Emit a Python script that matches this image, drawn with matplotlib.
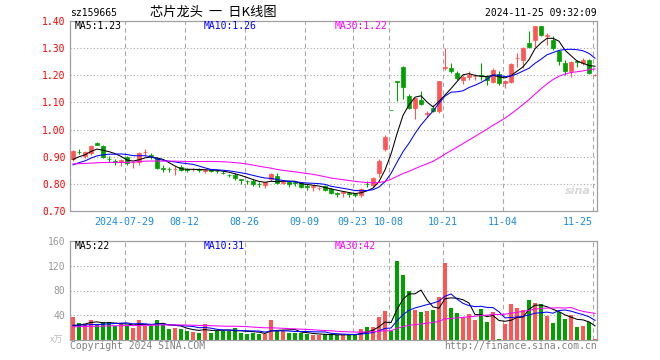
import numpy as np
import pandas as pd
import matplotlib
matplotlib.use("Agg")
import matplotlib.pyplot as plt

# 日K线数据 (2024-07-16 ~ 2024-11-25)
opens = [
    0.891, 0.919, 0.902, 0.914, 0.951, 0.941, 0.893, 0.884, 0.879, 0.899,
    0.879, 0.880, 0.916, 0.906, 0.895, 0.857, 0.856, 0.854, 0.862, 0.853,
    0.853, 0.853, 0.849, 0.850, 0.849, 0.841, 0.834, 0.833, 0.818, 0.812,
    0.812, 0.800, 0.796, 0.817, 0.830, 0.803, 0.809, 0.806, 0.802, 0.791,
    0.789, 0.783, 0.793, 0.780, 0.766, 0.767, 0.766, 0.761, 0.760, 0.801,
    0.796, 0.840, 0.930, 1.072, 1.178, 1.232, 1.123, 1.078, 1.109, 1.058,
    1.080, 1.069, 1.228, 1.226, 1.207, 1.183, 1.193, 1.197, 1.201, 1.198,
    1.177, 1.205, 1.170, 1.177, 1.262, 1.257, 1.319, 1.331, 1.380, 1.346,
    1.331, 1.288, 1.244, 1.214, 1.252, 1.244, 1.257, 1.200]
closes = [
    0.922, 0.917, 0.917, 0.941, 0.944, 0.900, 0.891, 0.882, 0.889, 0.877,
    0.881, 0.914, 0.918, 0.904, 0.860, 0.855, 0.854, 0.856, 0.852, 0.851,
    0.855, 0.851, 0.851, 0.846, 0.847, 0.839, 0.832, 0.821, 0.816, 0.810,
    0.800, 0.798, 0.805, 0.835, 0.802, 0.807, 0.800, 0.804, 0.790, 0.789,
    0.791, 0.785, 0.778, 0.765, 0.764, 0.769, 0.764, 0.759, 0.780, 0.799,
    0.820, 0.885, 0.973, 1.071, 1.175, 1.158, 1.078, 1.115, 1.096, 1.060,
    1.069, 1.180, 1.232, 1.214, 1.189, 1.195, 1.200, 1.199, 1.199, 1.183,
    1.220, 1.170, 1.180, 1.241, 1.264, 1.300, 1.304, 1.380, 1.349, 1.348,
    1.300, 1.251, 1.214, 1.248, 1.250, 1.257, 1.210, 1.202]
highs = [
    0.926, 0.927, 0.920, 0.945, 0.955, 0.945, 0.904, 0.892, 0.892, 0.901,
    0.885, 0.917, 0.928, 0.914, 0.899, 0.870, 0.862, 0.864, 0.870, 0.858,
    0.858, 0.858, 0.854, 0.853, 0.852, 0.846, 0.838, 0.839, 0.819, 0.815,
    0.817, 0.805, 0.808, 0.840, 0.840, 0.810, 0.815, 0.812, 0.805, 0.798,
    0.794, 0.790, 0.797, 0.784, 0.771, 0.775, 0.771, 0.765, 0.784, 0.809,
    0.827, 0.891, 0.979, 1.073, 1.180, 1.235, 1.131, 1.117, 1.142, 1.070,
    1.090, 1.180, 1.300, 1.245, 1.214, 1.200, 1.214, 1.205, 1.245, 1.200,
    1.226, 1.214, 1.183, 1.247, 1.281, 1.304, 1.362, 1.380, 1.380, 1.355,
    1.343, 1.294, 1.257, 1.251, 1.257, 1.263, 1.259, 1.203]
lows = [
    0.886, 0.910, 0.894, 0.908, 0.942, 0.896, 0.880, 0.870, 0.866, 0.870,
    0.860, 0.870, 0.904, 0.890, 0.854, 0.845, 0.845, 0.833, 0.846, 0.842,
    0.849, 0.843, 0.840, 0.842, 0.840, 0.836, 0.826, 0.815, 0.800, 0.800,
    0.793, 0.790, 0.785, 0.810, 0.798, 0.798, 0.788, 0.792, 0.786, 0.776,
    0.772, 0.778, 0.772, 0.763, 0.753, 0.753, 0.751, 0.751, 0.751, 0.788,
    0.790, 0.827, 0.921, 1.071, 1.107, 1.113, 1.074, 1.038, 1.090, 1.047,
    1.065, 1.060, 1.220, 1.207, 1.183, 1.168, 1.183, 1.183, 1.183, 1.164,
    1.170, 1.165, 1.152, 1.170, 1.232, 1.226, 1.300, 1.306, 1.343, 1.312,
    1.294, 1.238, 1.201, 1.195, 1.232, 1.238, 1.204, 1.199]
# 成交量 (万手)
volumes = [
    36.5, 27, 26, 33, 24, 28.5, 28.5, 23, 27, 23,
    20, 32, 23, 23, 32, 25, 18, 20, 18, 14.5,
    13.4, 12, 26, 12, 14.5, 14.5, 14.5, 19, 12, 10,
    12, 10, 9, 32, 14.5, 14.5, 12, 12, 11, 10,
    8, 8, 9, 9, 8, 8, 8, 10, 18, 21.5,
    21.5, 36.5, 47, 14.5, 127, 105, 79, 48, 45, 47,
    48, 69, 125, 51.5, 43.5, 36.5, 42, 32, 50, 29,
    45, 1.5, 26, 58, 51.5, 48, 64, 60, 58, 39,
    27, 45, 34, 40, 21, 22.5, 29, 1.6]

# 区间之前的29个交易日, 只用于计算均线
pre_closes = [
    0.90, 0.89, 0.91, 0.90, 0.88, 0.87, 0.88, 0.89, 0.87, 0.86,
    0.86, 0.87, 0.88, 0.87, 0.86, 0.85, 0.86, 0.87, 0.88, 0.86,
    0.84, 0.85, 0.84, 0.86, 0.86, 0.87, 0.88, 0.88, 0.90]
pre_volumes = [
    18, 22, 20, 24, 19, 17, 21, 23, 18, 20,
    22, 19, 16, 21, 24, 20, 18, 19, 22, 17,
    26, 24, 27, 23, 25, 20, 18, 21, 19]

holidays = ["2024-09-16", "2024-09-17", "2024-10-01", "2024-10-02", "2024-10-03",
            "2024-10-04", "2024-10-07"]
tick_dates = ["2024-07-29", "2024-08-12", "2024-08-26", "2024-09-09", "2024-09-23",
              "2024-10-08", "2024-10-21", "2024-11-04", "2024-11-25"]
tick_labels = ["2024-07-29", "08-12", "08-26", "09-09", "09-23", "10-08", "10-21", "11-04", "11-25"]

price_labels = ["MA5:1.23", "MA10:1.26", "MA30:1.22"]
vol_labels = ["MA5:22", "MA10:31", "MA30:42"]

RED = "#ff5555"
GREEN = "#00a000"
GRID = "#a8a8a8"
FRAME = "#a0a0a0"
MONO = "DejaVu Sans Mono"

days = pd.bdate_range("2024-07-16", "2024-11-25")
days = days[~days.isin(pd.to_datetime(holidays))]
n = len(days)
x = np.arange(n)

o = np.array(opens)
c = np.array(closes)
h = np.array(highs)
l = np.array(lows)
v = np.array(volumes)
colors = np.where(c > o, RED, GREEN)

all_c = pd.Series(pre_closes + closes)
all_v = pd.Series(pre_volumes + volumes)
k = len(pre_closes)
ma_c = {w: all_c.rolling(w).mean().values[k:] for w in (5, 10, 30)}
ma_v = {w: all_v.rolling(w).mean().values[k:] for w in (5, 10, 30)}
ma_colors = {5: "black", 10: "blue", 30: "#ff00ff"}

W, H = 660, 360
fig = plt.figure(figsize=(6.6, 3.6), dpi=100)
fig.patch.set_facecolor("white")


def px_axes(l, t, r, b):
    return fig.add_axes([l / W, 1 - b / H, (r - l) / W, (b - t) / H])


ax = px_axes(70, 21, 597, 211)
axv = px_axes(70, 241, 597, 340)

tick_pos = [days.get_loc(pd.Timestamp(d)) - 0.4 for d in tick_dates]

for a in (ax, axv):
    a.set_xlim(-0.5, 87.33)
    for s in a.spines.values():
        s.set_color(FRAME)
        s.set_linewidth(0.9)
    for t in tick_pos:
        a.axvline(t, color=GRID, lw=0.8, dashes=(4, 3), zorder=0)
    a.tick_params(length=0)

# K线
ax.vlines(x, l, h, colors=colors, lw=0.8, zorder=2)
ax.bar(x, np.abs(c - o), bottom=np.minimum(o, c), width=0.72, color=colors,
       edgecolor=colors, linewidth=0.5, zorder=3)
for w in (5, 10, 30):
    ax.plot(x, ma_c[w], color=ma_colors[w], lw=0.75, zorder=4)

ax.set_ylim(0.70, 1.40)
yt = np.round(np.arange(0.70, 1.401, 0.10), 2)
ax.set_yticks(yt)
ax.set_yticklabels([f"{t:.2f}" for t in yt], color="red", fontfamily=MONO, fontsize=7)
for t in yt[1:-1]:
    ax.axhline(t, color=GRID, lw=0.8, dashes=(1, 2), zorder=0)
ax.set_xticks(tick_pos)
ax.set_xticklabels(tick_labels, color="#1a8ae0", fontfamily=MONO, fontsize=7.2)
ax.get_xticklabels()[-1].set_horizontalalignment("right")
ax.tick_params(axis="x", pad=4)
ax.tick_params(axis="y", pad=3)

# 成交量
axv.bar(x, v, width=0.82, color=colors, linewidth=0, zorder=2)
for w in (5, 10, 30):
    axv.plot(x, ma_v[w], color=ma_colors[w], lw=0.75, zorder=3)
axv.set_ylim(0, 160)
vt = [40, 80, 120, 160]
axv.set_yticks(vt)
axv.set_yticklabels([str(t) for t in vt], color="#999999", fontfamily=MONO, fontsize=7)
for t in vt[:-1]:
    axv.axhline(t, color=GRID, lw=0.8, dashes=(1, 2), zorder=0)
axv.set_xticks([])


def ftext(px, py, s, **kw):
    fig.text(px / W, 1 - py / H, s, **kw)


# 标题与说明文字
ftext(70, 13, "sz159665", fontfamily=MONO, fontsize=7, va="center")
ftext(150, 12, "芯片龙头  一  日K线图", fontfamily=["Noto Sans CJK SC", "DejaVu Sans"],
      fontsize=9.5, va="center")
ftext(597, 13, "2024-11-25 09:32:09", fontfamily=MONO, fontsize=7, va="center", ha="right")
for lx, s, col in zip((75, 204, 335), price_labels, ("black", "blue", "#ff00ff")):
    ftext(lx, 26, s, fontfamily=MONO, fontsize=7, va="center", color=col)
for lx, s, col in zip((75, 204, 335), vol_labels, ("black", "blue", "#ff00ff")):
    ftext(lx, 246, s, fontfamily=MONO, fontsize=7, va="center", color=col)
ftext(63, 340, "x万", fontfamily=["Noto Sans CJK SC", "DejaVu Sans"], fontsize=6.5,
      va="center", ha="right", color="#bbbbbb")
ftext(70, 346, "Copyright 2024 SINA.COM", fontfamily=MONO, fontsize=7, va="center", color="#808080")
ftext(597, 346, "http://finance.sina.com.cn", fontfamily=MONO, fontsize=7, va="center",
      ha="right", color="#808080")
ftext(565, 191, "sina", fontsize=8, fontweight="bold", style="italic", va="center",
      color="#d8d8d8")

fig.savefig("out.png", dpi=100, facecolor="white")
